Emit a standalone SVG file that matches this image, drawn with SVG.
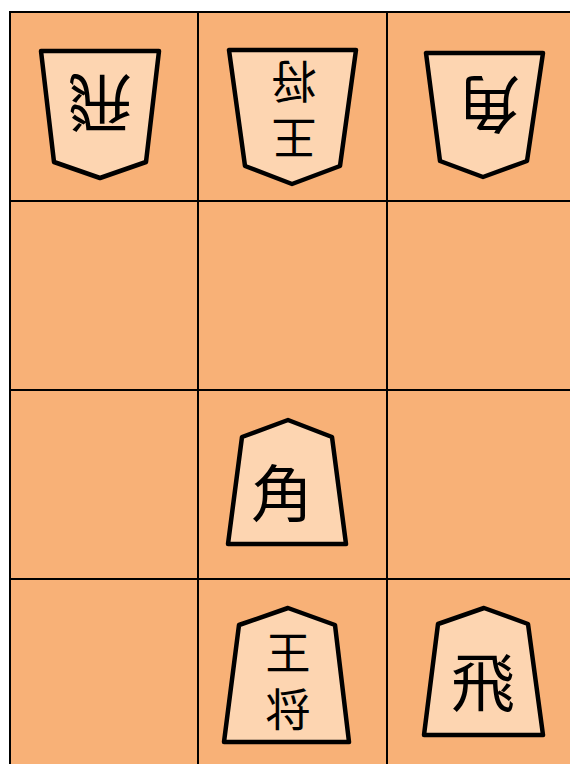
<svg xmlns="http://www.w3.org/2000/svg" width="570" height="764" viewBox="0 0 570 764">
<style>
.board{fill:#F8B177;stroke:#000;stroke-width:2}
.grid{stroke:#000;stroke-width:2;fill:none}
.piece{fill:#FDD5B1;stroke:#000;stroke-width:4.5;stroke-linejoin:round}
.k{font-family:"Noto Sans CJK JP","Noto Sans CJK SC",sans-serif;fill:#000;text-anchor:middle;dominant-baseline:central}
</style>
<rect width="570" height="764" fill="#fff"/>
<g id="board">
<rect class="board" x="10" y="12" width="600" height="800"/>
<g class="grid">
<line x1="198" y1="12" x2="198" y2="764"/>
<line x1="387" y1="12" x2="387" y2="764"/>
<line x1="10" y1="201" x2="570" y2="201"/>
<line x1="10" y1="390" x2="570" y2="390"/>
<line x1="10" y1="579" x2="570" y2="579"/>
</g>
</g>
<g id="gote-hisha">
<polygon class="piece" points="41,51 159,51 146,162 100,178 54,162"/>
<text class="k" x="100" y="108" font-size="64" transform="rotate(180 100 108)">飛</text>
</g>
<g id="gote-ou">
<polygon class="piece" points="229,50 356,50 340,166 292,184 245,166"/>
<text class="k" font-size="45" transform="rotate(180 294 113)"><tspan x="294" y="85">王</tspan><tspan x="294" y="142">将</tspan></text>
</g>
<g id="gote-kaku">
<polygon class="piece" points="426,53 543,53 527,161 483,177 440,161"/>
<text class="k" x="489" y="108" font-size="62" transform="rotate(180 489 108)">角</text>
</g>
<g id="sente-kaku">
<polygon class="piece" points="288,420 332,437 346,544 228,544 242,437"/>
<text class="k" x="282" y="490" font-size="62">角</text>
</g>
<g id="sente-ou">
<polygon class="piece" points="288,608 335,625 349,742 224,742 239,625"/>
<text class="k" font-size="45"><tspan x="288" y="650">王</tspan><tspan x="288" y="707">将</tspan></text>
</g>
<g id="sente-hisha">
<polygon class="piece" points="484,608 528,624 543,735 424,735 438,624"/>
<text class="k" x="483" y="678" font-size="64">飛</text>
</g>
</svg>
